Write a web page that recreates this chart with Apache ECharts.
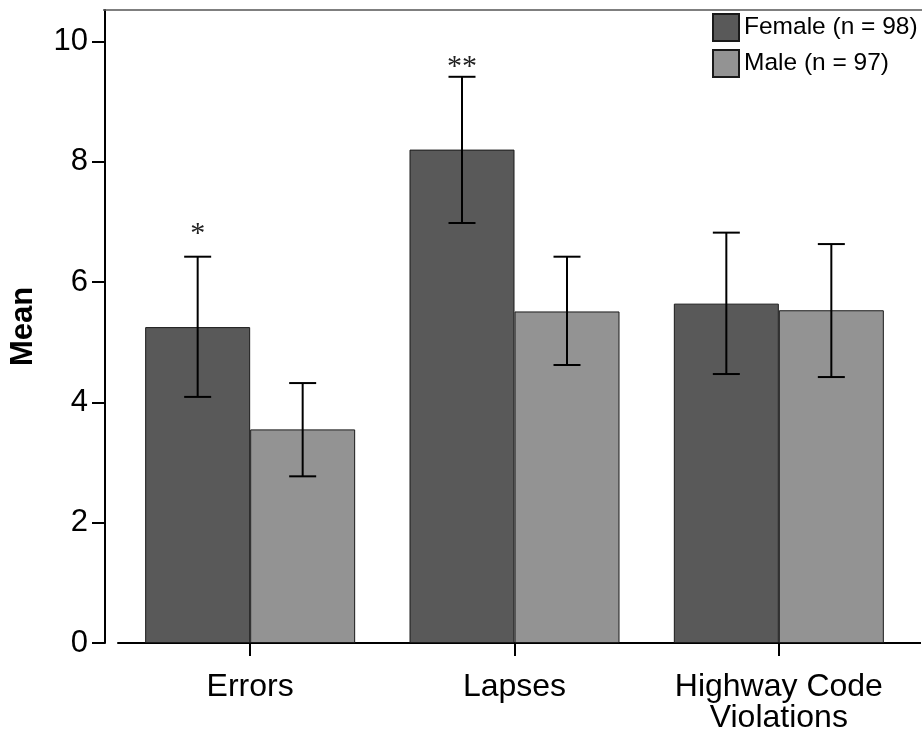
<!DOCTYPE html>
<html>
<head>
<meta charset="utf-8">
<script src="https://cdn.jsdelivr.net/npm/echarts@6/dist/echarts.min.js"></script>
<style>
html,body{margin:0;padding:0;background:#fff;}
#chart{width:922px;height:738px;}
</style>
</head>
<body>
<div id="chart"></div>
<script>
// ---- data ----
const categories = ['Errors', 'Lapses', 'Highway Code\nViolations'];
const seriesNames = ['Female (n = 98)', 'Male (n = 97)'];
const femaleMean = [5.25, 8.20, 5.64];
const maleMean = [3.55, 5.51, 5.53];
const femaleLow = [4.09, 6.98, 4.47];
const femaleHigh = [6.42, 9.41, 6.82];
const maleLow = [2.77, 4.62, 4.42];
const maleHigh = [4.32, 6.42, 6.63];
const sigLabels = ['*', '**', ''];
const sigValues = [6.80, 9.57, 0];
const yTicks = [0, 2, 4, 6, 8, 10];
const yMax = 10.52;

// ---- styles ----
const BAR_W = 105;
const FONT = 'Liberation Sans, Arial, Helvetica, sans-serif';

const chart = echarts.init(document.getElementById('chart'), null, {renderer: 'canvas'});

function errData(lo, hi) {
  return categories.map((c, i) => [i, lo[i], hi[i]]);
}

function errRender(side) {
  return function (params, api) {
    const cat = api.value(0);
    const lo = api.coord([cat, api.value(1)]);
    const hi = api.coord([cat, api.value(2)]);
    const x = lo[0] + side * BAR_W / 2;
    const cap = 13.5;
    const st = {stroke: '#000', lineWidth: 2};
    return {
      type: 'group',
      children: [
        {type: 'line', shape: {x1: x, y1: lo[1], x2: x, y2: hi[1]}, style: st},
        {type: 'line', shape: {x1: x - cap, y1: lo[1], x2: x + cap, y2: lo[1]}, style: st},
        {type: 'line', shape: {x1: x - cap, y1: hi[1], x2: x + cap, y2: hi[1]}, style: st}
      ]
    };
  };
}

const option = {
  animation: false,
  backgroundColor: '#fff',
  grid: {left: 116, right: 11, top: 10, bottom: 95, containLabel: false},
  legend: {
    orient: 'vertical',
    left: 712,
    top: 13,
    padding: 0,
    itemWidth: 26,
    itemHeight: 27,
    itemGap: 7,
    data: seriesNames,
    textStyle: {fontFamily: FONT, fontSize: 24.5, color: '#000'},
    icon: 'rect'
  },
  xAxis: {
    type: 'category',
    data: categories,
    axisLine: {show: true, lineStyle: {color: '#000', width: 2}},
    axisTick: {show: true, alignWithLabel: true, interval: 0, length: 13, lineStyle: {color: '#000', width: 2}},
    axisLabel: {fontFamily: FONT, fontSize: 32, color: '#000', margin: 29, lineHeight: 31, interval: 0, hideOverlap: false},
    splitLine: {show: false}
  },
  yAxis: {
    type: 'value',
    min: 0,
    max: yMax,
    offset: 13,
    name: 'Mean',
    nameLocation: 'middle',
    nameGap: 66,
    nameRotate: 90,
    nameTextStyle: {fontFamily: FONT, fontSize: 31, fontWeight: 'bold', color: '#000'},
    axisLine: {show: true, lineStyle: {color: '#000', width: 2}},
    axisTick: {show: true, length: 13, customValues: yTicks, lineStyle: {color: '#000', width: 2}},
    axisLabel: {fontFamily: FONT, fontSize: 31, color: '#000', margin: 17, customValues: yTicks},
    splitLine: {show: false}
  },
  graphic: [
    {type: 'line', shape: {x1: 103, y1: 10, x2: 922, y2: 10}, style: {stroke: '#555', lineWidth: 1.5}, z: 10},
    {type: 'line', shape: {x1: 905, y1: 643, x2: 921, y2: 643}, style: {stroke: '#000', lineWidth: 2}, z: 10}
  ],
  series: [
    {
      name: seriesNames[0],
      type: 'bar',
      data: femaleMean,
      barWidth: BAR_W,
      barGap: '0%',
      itemStyle: {color: '#595959', borderColor: '#1a1a1a', borderWidth: 1}
    },
    {
      name: seriesNames[1],
      type: 'bar',
      data: maleMean,
      barWidth: BAR_W,
      barGap: '0%',
      itemStyle: {color: '#939393', borderColor: '#1a1a1a', borderWidth: 1}
    },
    {
      type: 'custom',
      data: errData(femaleLow, femaleHigh),
      encode: {x: 0, y: [1, 2]},
      renderItem: errRender(-1),
      z: 5,
      silent: true
    },
    {
      type: 'custom',
      data: errData(maleLow, maleHigh),
      encode: {x: 0, y: [1, 2]},
      renderItem: errRender(1),
      z: 5,
      silent: true
    },
    {
      type: 'custom',
      data: categories.map((c, i) => [i, sigValues[i], sigLabels[i]]),
      encode: {x: 0, y: 1},
      renderItem: function (params, api) {
        const i = params.dataIndex;
        const p = api.coord([api.value(0), api.value(1)]);
        return {
          type: 'text',
          style: {
            x: p[0] - BAR_W / 2,
            y: p[1],
            text: sigLabels[i],
            fontFamily: 'Liberation Serif, Times New Roman, serif',
            fontSize: 30,
            fill: '#222',
            align: 'center',
            verticalAlign: 'middle'
          }
        };
      },
      z: 6,
      silent: true
    }
  ]
};
chart.setOption(option);
</script>
</body>
</html>
